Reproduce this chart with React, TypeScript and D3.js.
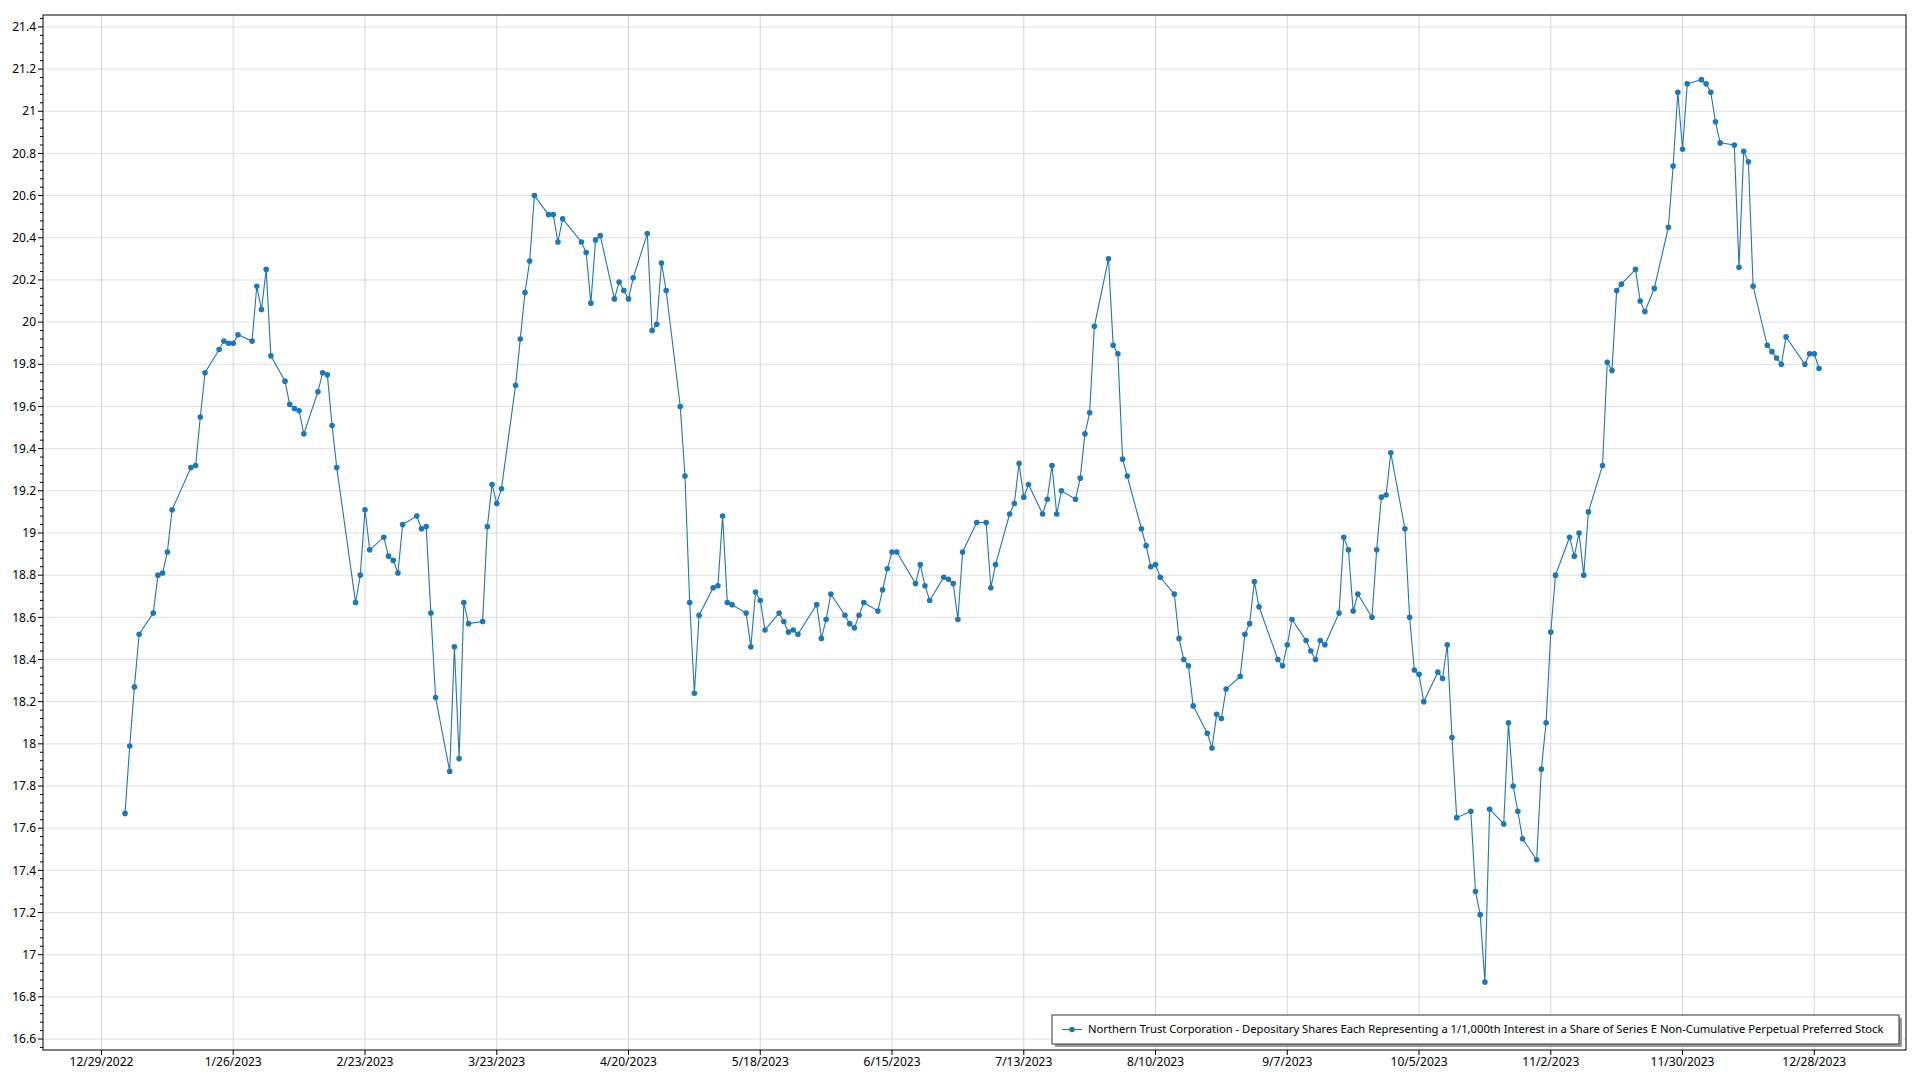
import React, { useLayoutEffect, useRef, useState } from 'react';
import * as d3 from 'd3';

const YEAR = 2023;

const tradeDates: string[] = [
  '1/3','1/4','1/5','1/6','1/9','1/10','1/11','1/12','1/13','1/17','1/18','1/19','1/20','1/23','1/24','1/25','1/26','1/27','1/30','1/31',
  '2/1','2/2','2/3','2/6','2/7','2/8','2/9','2/10','2/13','2/14','2/15','2/16','2/17','2/21','2/22','2/23','2/24','2/27','2/28',
  '3/1','3/2','3/3','3/6','3/7','3/8','3/9','3/10','3/13','3/14','3/15','3/16','3/17','3/20','3/21','3/22','3/23','3/24','3/27','3/28','3/29','3/30','3/31',
  '4/3','4/4','4/5','4/6','4/10','4/11','4/12','4/13','4/14','4/17','4/18','4/19','4/20','4/21','4/24','4/25','4/26','4/27','4/28',
  '5/1','5/2','5/3','5/4','5/5','5/8','5/9','5/10','5/11','5/12','5/15','5/16','5/17','5/18','5/19','5/22','5/23','5/24','5/25','5/26','5/30','5/31',
  '6/1','6/2','6/5','6/6','6/7','6/8','6/9','6/12','6/13','6/14','6/15','6/16','6/20','6/21','6/22','6/23','6/26','6/27','6/28','6/29','6/30',
  '7/3','7/5','7/6','7/7','7/10','7/11','7/12','7/13','7/14','7/17','7/18','7/19','7/20','7/21','7/24','7/25','7/26','7/27','7/28','7/31',
  '8/1','8/2','8/3','8/4','8/7','8/8','8/9','8/10','8/11','8/14','8/15','8/16','8/17','8/18','8/21','8/22','8/23','8/24','8/25','8/28','8/29','8/30','8/31',
  '9/1','9/5','9/6','9/7','9/8','9/11','9/12','9/13','9/14','9/15','9/18','9/19','9/20','9/21','9/22','9/25','9/26','9/27','9/28','9/29',
  '10/2','10/3','10/4','10/5','10/6','10/9','10/10','10/11','10/12','10/13','10/16','10/17','10/18','10/19','10/20','10/23','10/24','10/25','10/26','10/27','10/30','10/31',
  '11/1','11/2','11/3','11/6','11/7','11/8','11/9','11/10','11/13','11/14','11/15','11/16','11/17','11/20','11/21','11/22','11/24','11/27','11/28','11/29','11/30',
  '12/1','12/4','12/5','12/6','12/7','12/8','12/11','12/12','12/13','12/14','12/15','12/18','12/19','12/20','12/21','12/22','12/26','12/27','12/28','12/29',
];

const prices: number[] = [
  17.67,17.99,18.27,18.52,18.62,18.80,18.81,18.91,19.11,19.31,19.32,19.55,19.76,19.87,19.91,19.90,19.90,19.94,19.91,20.17,
  20.06,20.25,19.84,19.72,19.61,19.59,19.58,19.47,19.67,19.76,19.75,19.51,19.31,18.67,18.80,19.11,18.92,18.98,18.89,
  18.87,18.81,19.04,19.08,19.02,19.03,18.62,18.22,17.87,18.46,17.93,18.67,18.57,18.58,19.03,19.23,19.14,19.21,19.70,19.92,20.14,20.29,20.60,
  20.51,20.51,20.38,20.49,20.38,20.33,20.09,20.39,20.41,20.11,20.19,20.15,20.11,20.21,20.42,19.96,19.99,20.28,20.15,
  19.60,19.27,18.67,18.24,18.61,18.74,18.75,19.08,18.67,18.66,18.62,18.46,18.72,18.68,18.54,18.62,18.58,18.53,18.54,18.52,18.66,18.50,
  18.59,18.71,18.61,18.57,18.55,18.61,18.67,18.63,18.73,18.83,18.91,18.91,18.76,18.85,18.75,18.68,18.79,18.78,18.76,18.59,18.91,
  19.05,19.05,18.74,18.85,19.09,19.14,19.33,19.17,19.23,19.09,19.16,19.32,19.09,19.20,19.16,19.26,19.47,19.57,19.98,20.30,
  19.89,19.85,19.35,19.27,19.02,18.94,18.84,18.85,18.79,18.71,18.50,18.40,18.37,18.18,18.05,17.98,18.14,18.12,18.26,18.32,18.52,18.57,18.77,
  18.65,18.40,18.37,18.47,18.59,18.49,18.44,18.40,18.49,18.47,18.62,18.98,18.92,18.63,18.71,18.60,18.92,19.17,19.18,19.38,
  19.02,18.60,18.35,18.33,18.20,18.34,18.31,18.47,18.03,17.65,17.68,17.30,17.19,16.87,17.69,17.62,18.10,17.80,17.68,17.55,17.45,17.88,
  18.10,18.53,18.80,18.98,18.89,19.00,18.80,19.10,19.32,19.81,19.77,20.15,20.18,20.25,20.10,20.05,20.16,20.45,20.74,21.09,20.82,
  21.13,21.15,21.13,21.09,20.95,20.85,20.84,20.26,20.81,20.76,20.17,19.89,19.86,19.83,19.80,19.93,19.80,19.85,19.85,19.78,
];

const xTickLabels: string[] = [
  '12/29/2022','1/26/2023','2/23/2023','3/23/2023','4/20/2023','5/18/2023','6/15/2023',
  '7/13/2023','8/10/2023','9/7/2023','10/5/2023','11/2/2023','11/30/2023','12/28/2023',
];

const yTicks: number[] = [
  16.6,16.8,17,17.2,17.4,17.6,17.8,18,18.2,18.4,18.6,18.8,19,19.2,19.4,19.6,19.8,20,20.2,20.4,20.6,20.8,21,21.2,21.4,
];

const seriesName =
  'Northern Trust Corporation - Depositary Shares Each Representing a 1/1,000th Interest in a Share of Series E Non-Cumulative Perpetual Preferred Stock';

const FONT = "'Segoe UI', 'Noto Sans', 'Open Sans', sans-serif";
const LINE_COLOR = '#1f77b4';

export default function App() {
  const W = 1920;
  const H = 1080;
  const left = 43;
  const right = 1906;
  const top = 15;
  const bottom = 1050;

  const legendRef = useRef<SVGTextElement>(null);
  const [legendFont, setLegendFont] = useState(12);
  const legendTarget = 796;

  useLayoutEffect(() => {
    const el = legendRef.current;
    if (!el) return;
    const len = el.getComputedTextLength();
    if (len > 0 && legendFont === 12) {
      setLegendFont((12 * legendTarget) / len);
    }
  }, [legendFont]);

  const x = d3
    .scaleTime()
    .domain([new Date(2022, 11, 16, 13, 40), new Date(2024, 0, 16, 11, 45)])
    .range([left, right]);
  const y = d3.scaleLinear().domain([16.548, 21.4565]).range([bottom, top]);

  const n = Math.min(tradeDates.length, prices.length);
  const data = d3.range(n).map((i) => {
    const [m, d] = tradeDates[i].split('/').map(Number);
    return { date: new Date(YEAR, m - 1, d), v: prices[i] };
  });

  const line = d3
    .line<{ date: Date; v: number }>()
    .x((d) => x(d.date))
    .y((d) => y(d.v));

  const xTicks = xTickLabels.map((s) => {
    const [m, d, yy] = s.split('/').map(Number);
    return { date: new Date(yy, m - 1, d), label: s };
  });

  const [y0, y1] = y.domain();
  const minor: number[] = [];
  for (let k = Math.ceil(y0 / 0.04 - 1e-6); k <= Math.floor(y1 / 0.04 + 1e-6); k++) {
    if (k % 5 !== 0) minor.push(k * 0.04);
  }

  const legX = 1052;
  const legY = 1015;
  const legW = 847;
  const legH = 29;

  return (
    <svg
      width={W}
      height={H}
      style={{ position: 'absolute', left: 0, top: 0, background: '#fff' }}
      fontFamily={FONT}
    >
      <rect x={0} y={0} width={W} height={H} fill="#fff" />
      {yTicks.map((t) => (
        <line key={'hg' + t} x1={left} x2={right} y1={y(t)} y2={y(t)} stroke="#e0e0e0" strokeWidth={1} />
      ))}
      {xTicks.map((t) => (
        <line key={'vg' + t.label} x1={x(t.date)} x2={x(t.date)} y1={top} y2={bottom} stroke="#d6d6d6" strokeWidth={1} />
      ))}

      <rect x={left} y={top} width={right - left} height={bottom - top} fill="none" stroke="#000" strokeWidth={1} />

      {yTicks.map((t) => (
        <g key={'yt' + t}>
          <line x1={left - 5} x2={left} y1={y(t)} y2={y(t)} stroke="#000" />
          <text x={36} y={y(t)} dy="0.35em" textAnchor="end" fontSize={12} fill="#000">
            {d3.format('~g')(t)}
          </text>
        </g>
      ))}
      {minor.map((t) => (
        <line key={'ym' + t} x1={left - 3} x2={left} y1={y(t)} y2={y(t)} stroke="#000" />
      ))}

      {xTicks.map((t) => (
        <g key={'xt' + t.label}>
          <line x1={x(t.date)} x2={x(t.date)} y1={bottom} y2={bottom + 5} stroke="#000" />
          <text x={x(t.date)} y={bottom + 16} textAnchor="middle" fontSize={12} fill="#000">
            {t.label}
          </text>
        </g>
      ))}

      <path d={line(data) || ''} fill="none" stroke={LINE_COLOR} strokeWidth={1.1} />
      {data.map((d, i) => (
        <circle key={'p' + i} cx={x(d.date)} cy={y(d.v)} r={2.8} fill={LINE_COLOR} />
      ))}

      <rect x={legX + 3} y={legY + 3} width={legW} height={legH} fill="#9a9a9a" />
      <rect x={legX} y={legY} width={legW} height={legH} fill="#fff" stroke="#333" strokeWidth={1} />
      <line x1={legX + 10} x2={legX + 30} y1={legY + legH / 2} y2={legY + legH / 2} stroke={LINE_COLOR} strokeWidth={1.1} />
      <circle cx={legX + 20} cy={legY + legH / 2} r={2.8} fill={LINE_COLOR} />
      <text ref={legendRef} x={legX + 36} y={legY + legH / 2} dy="0.35em" fontSize={legendFont} fill="#000">
        {seriesName}
      </text>
    </svg>
  );
}
